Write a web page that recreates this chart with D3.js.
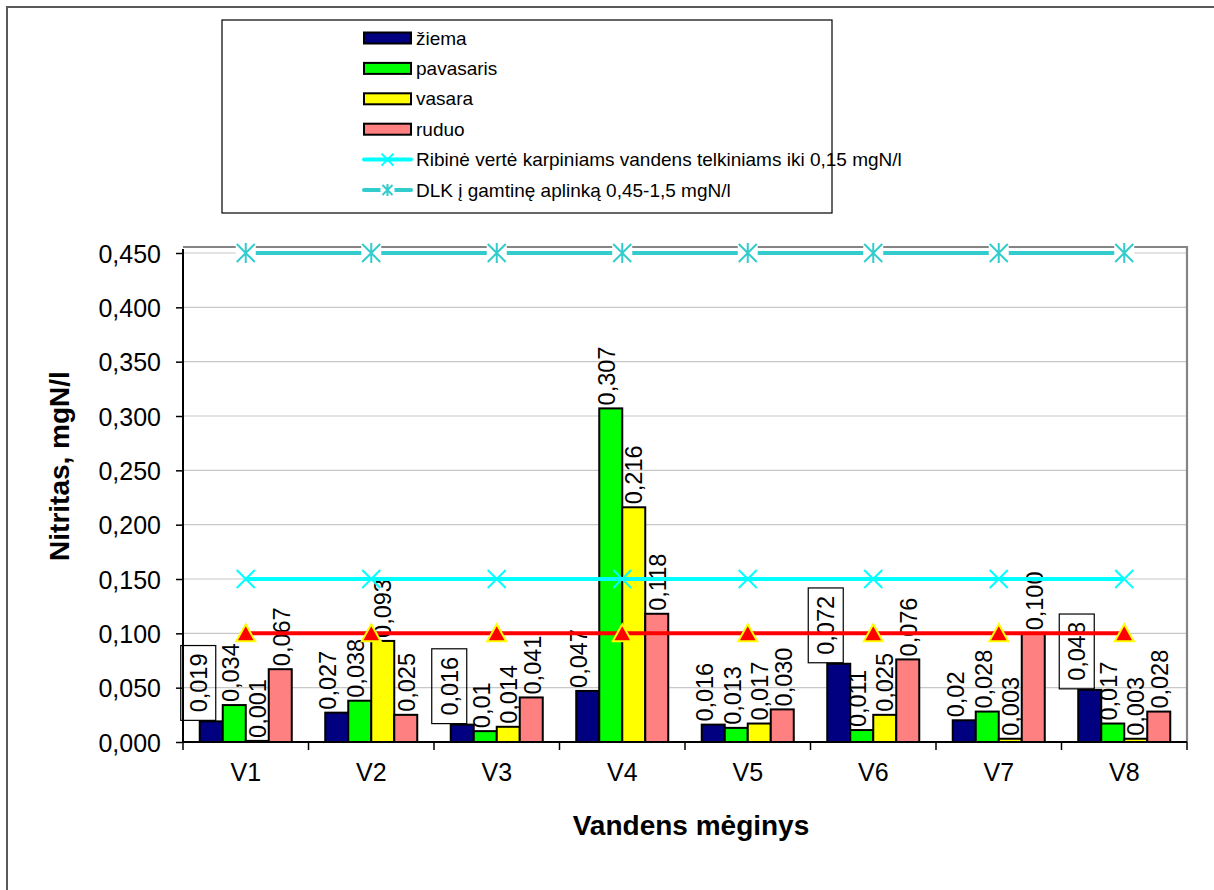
<!DOCTYPE html>
<html>
<head>
<meta charset="utf-8">
<script src="https://cdn.jsdelivr.net/npm/d3@7"></script>
<style>
  html, body { margin: 0; padding: 0; background: #fff; }
  svg { display: block; font-family: Arial, "Liberation Sans", sans-serif; }
</style>
</head>
<body>
<svg id="chart" width="1214" height="890"></svg>
<script>
// Sampling points along the x axis
const categories = ["V1", "V2", "V3", "V4", "V5", "V6", "V7", "V8"];

// Seasonal nitrite values (mgN/l), kept as written so labels show the same digits
const ziema     = ["0.019", "0.027", "0.016", "0.047", "0.016", "0.072", "0.02",  "0.048"];
const pavasaris = ["0.034", "0.038", "0.01",  "0.307", "0.013", "0.011", "0.028", "0.017"];
const vasara    = ["0.001", "0.093", "0.014", "0.216", "0.017", "0.025", "0.003", "0.003"];
const ruduo     = ["0.067", "0.025", "0.041", "0.118", "0.030", "0.076", "0.100", "0.028"];

// Reference levels
const ribine = [0.15, 0.15, 0.15, 0.15, 0.15, 0.15, 0.15, 0.15];
const dlk    = [0.45, 0.45, 0.45, 0.45, 0.45, 0.45, 0.45, 0.45];
const riba   = [0.1, 0.1, 0.1, 0.1, 0.1, 0.1, 0.1, 0.1];

// Winter labels that carry a frame
const boxedZiema = ["V1", "V3", "V6", "V8"];

const yTicks = [0, 0.05, 0.1, 0.15, 0.2, 0.25, 0.3, 0.35, 0.4, 0.45];

const seriesNames = ["žiema", "pavasaris", "vasara", "ruduo"];
const seriesVals  = [ziema, pavasaris, vasara, ruduo];
const seriesColors = ["#000080", "#00FF00", "#FFFF00", "#FF8080"];
const labelNudge = [-9, -4, 0, 1];

const lineNames = [
  "Ribinė vertė karpiniams vandens telkiniams iki 0,15 mgN/l",
  "DLK į gamtinę aplinką 0,45-1,5 mgN/l"
];

const svg = d3.select("#chart");

// outer chart frame
svg.append("rect")
  .attr("x", 7).attr("y", 7).attr("width", 1230).attr("height", 900)
  .attr("fill", "none").attr("stroke", "#595959").attr("stroke-width", 2);

const plot = { left: 183, right: 1187, top: 247, bottom: 742 };

const x = d3.scaleBand().domain(categories).range([plot.left, plot.right]);
const xs = d3.scaleBand().domain(seriesNames).range([0, x.bandwidth()]).paddingOuter(0.728);
const y = d3.scaleLinear().domain([0, 0.45]).range([plot.bottom, 253]);

// gridlines
svg.append("g").selectAll("line").data(yTicks.filter(d => d > 0)).join("line")
  .attr("x1", plot.left).attr("x2", plot.right)
  .attr("y1", d => y(d)).attr("y2", d => y(d))
  .attr("stroke", "#c8c8c8").attr("stroke-width", 1.2);

// plot frame (top & right)
svg.append("path")
  .attr("d", `M${plot.left},${plot.top}H${plot.right}V${plot.bottom}`)
  .attr("fill", "none").attr("stroke", "#858585").attr("stroke-width", 2.2);

// y axis
const yAxis = svg.append("g")
  .attr("transform", `translate(${plot.left},0)`)
  .call(d3.axisLeft(y).tickValues(yTicks).tickSize(7).tickSizeOuter(0)
    .tickFormat(d => d.toFixed(3).replace(".", ",")));
yAxis.select(".domain").attr("d", `M0,${plot.top + 2}V${plot.bottom}`).attr("stroke", "#000").attr("stroke-width", 2);
yAxis.selectAll(".tick line").attr("stroke", "#000").attr("stroke-width", 1.5);
yAxis.selectAll(".tick text").attr("x", -22).attr("dy", "0.36em")
  .attr("font-size", 25).attr("font-family", "Arial, 'Liberation Sans', sans-serif").attr("fill", "#000");

// x axis
const xAxis = svg.append("g").attr("transform", `translate(0,${plot.bottom})`);
xAxis.append("line").attr("x1", plot.left).attr("x2", plot.right)
  .attr("stroke", "#000").attr("stroke-width", 2);
const bounds = categories.map(c => x(c)).concat([plot.right]);
xAxis.selectAll("line.tk").data(bounds).join("line").attr("class", "tk")
  .attr("x1", d => d).attr("x2", d => d).attr("y1", 0).attr("y2", 8)
  .attr("stroke", "#000").attr("stroke-width", 1.5);
xAxis.selectAll("text").data(categories).join("text")
  .attr("x", d => x(d) + x.bandwidth() / 2).attr("y", 39)
  .attr("text-anchor", "middle").attr("font-size", 25).text(d => d);

// bars
seriesVals.forEach((vals, si) => {
  svg.append("g").selectAll("rect").data(vals).join("rect")
    .attr("x", (d, i) => x(categories[i]) + xs(seriesNames[si]))
    .attr("width", xs.bandwidth())
    .attr("y", d => y(+d))
    .attr("height", d => y(0) - y(+d))
    .attr("fill", seriesColors[si])
    .attr("stroke", "#000").attr("stroke-width", 2);
});

// value labels, rotated
const labelSize = 23.5;
seriesVals.forEach((vals, si) => {
  vals.forEach((v, i) => {
    const cat = categories[i];
    const cx = x(cat) + xs(seriesNames[si]) + xs.bandwidth() / 2;
    const top = y(+v);
    const txt = v.replace(".", ",");
    const boxed = si === 0 && boxedZiema.includes(cat);
    const lx = cx + (boxed ? -13 : labelNudge[si]);
    const g = svg.append("g").attr("transform", `translate(${lx},${top - (boxed ? 9 : 3)}) rotate(-90)`);
    const t = g.append("text").attr("x", 0).attr("y", 0).attr("dy", "0.36em")
      .attr("font-size", labelSize).attr("fill", "#000").text(txt);
    if (boxed) {
      const len = t.node().getComputedTextLength();
      g.append("rect")
        .attr("x", -8).attr("y", -17.5)
        .attr("width", len + 16).attr("height", 35)
        .attr("fill", "none").attr("stroke", "#000").attr("stroke-width", 1.2);
    }
  });
});

// marker shapes
const crossPath = s => `M${-s},${-s}L${s},${s}M${-s},${s}L${s},${-s}`;
const starPath = s => `M${-s},${-s}L${s},${s}M${-s},${s}L${s},${-s}M0,${-s - 1}L0,${s + 1}`;
const triPath = "M0,-9L9.5,8L-9.5,8Z";

const cx = i => x(categories[i]) + x.bandwidth() / 2;
const lineGen = d3.line().x((d, i) => cx(i)).y(d => y(d));

// red 0,1 level
svg.append("path").attr("d", lineGen(riba))
  .attr("fill", "none").attr("stroke", "#FF0000").attr("stroke-width", 4);
svg.append("g").selectAll("path").data(riba).join("path")
  .attr("transform", (d, i) => `translate(${cx(i)},${y(d)})`)
  .attr("d", triPath).attr("fill", "#FF0000").attr("stroke", "#FFFF00").attr("stroke-width", 2);

// cyan 0,15 level
svg.append("path").attr("d", lineGen(ribine))
  .attr("fill", "none").attr("stroke", "#00FFFF").attr("stroke-width", 4);
svg.append("g").selectAll("path").data(ribine).join("path")
  .attr("transform", (d, i) => `translate(${cx(i)},${y(d)})`)
  .attr("d", crossPath(9)).attr("fill", "none").attr("stroke", "#00FFFF").attr("stroke-width", 2);

// teal 0,45 level
svg.append("path").attr("d", lineGen(dlk))
  .attr("fill", "none").attr("stroke", "#33CCCC").attr("stroke-width", 4);
const dlkMarks = svg.append("g").selectAll("g").data(dlk).join("g")
  .attr("transform", (d, i) => `translate(${cx(i)},${y(d)})`);
dlkMarks.append("rect").attr("x", -10).attr("y", -10).attr("width", 20).attr("height", 20).attr("fill", "#fff");
dlkMarks.append("path").attr("d", starPath(9)).attr("fill", "none").attr("stroke", "#33CCCC").attr("stroke-width", 2);

// axis titles
svg.append("text")
  .attr("transform", `translate(69,466) rotate(-90)`)
  .attr("text-anchor", "middle").attr("font-size", 28).attr("font-weight", "bold")
  .text("Nitritas, mgN/l");
svg.append("text")
  .attr("x", 691).attr("y", 835)
  .attr("text-anchor", "middle").attr("font-size", 28).attr("font-weight", "bold")
  .text("Vandens mėginys");

// legend
const legend = svg.append("g");
legend.append("rect").attr("x", 222).attr("y", 20).attr("width", 610).attr("height", 193)
  .attr("fill", "#fff").attr("stroke", "#000").attr("stroke-width", 1.2);
const rowY = i => 38 + i * 30.4;
seriesNames.forEach((name, i) => {
  legend.append("rect").attr("x", 364).attr("y", rowY(i) - 5.5).attr("width", 47).attr("height", 11)
    .attr("fill", seriesColors[i]).attr("stroke", "#000").attr("stroke-width", 2);
  legend.append("text").attr("x", 416).attr("y", rowY(i)).attr("dy", "0.35em")
    .attr("font-size", 19).text(name);
});
lineNames.forEach((name, j) => {
  const i = j + 4;
  const col = j === 0 ? "#00FFFF" : "#33CCCC";
  legend.append("line").attr("x1", 364).attr("x2", 411).attr("y1", rowY(i)).attr("y2", rowY(i))
    .attr("stroke", col).attr("stroke-width", 4).attr("stroke-linecap", "round");
  const m = legend.append("g").attr("transform", `translate(387.5,${rowY(i)})`);
  if (j === 1) {
    m.append("rect").attr("x", -7).attr("y", -8).attr("width", 14).attr("height", 16).attr("fill", "#fff");
    m.append("path").attr("d", starPath(5)).attr("stroke", col).attr("stroke-width", 2);
  } else {
    m.append("path").attr("d", crossPath(6)).attr("stroke", col).attr("stroke-width", 2);
  }
  legend.append("text").attr("x", 416).attr("y", rowY(i)).attr("dy", "0.35em")
    .attr("font-size", 19).text(name);
});
</script>
</body>
</html>
